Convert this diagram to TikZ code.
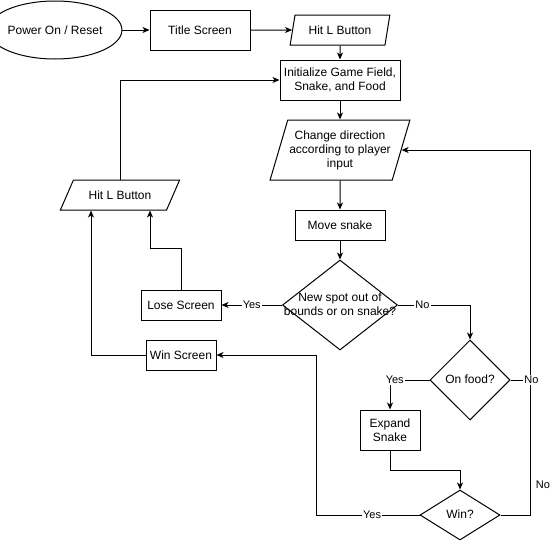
\documentclass[tikz,border=0pt]{standalone}
\usepackage{fontspec}
\setmainfont{Liberation Sans}
\usetikzlibrary{shapes.geometric,arrows.meta}
\newcommand{\flatbox}[1]{\makebox[0pt]{\raisebox{-4pt}[0pt][0pt]{\begin{tabular}{@{}c@{}}#1\end{tabular}}}}
\begin{document}
\begin{tikzpicture}[x=1pt,y=-1pt,line width=1pt,
    >={Stealth[length=7pt,width=6pt,inset=2pt]},
    font=\fontsize{12}{14}\selectfont,
    process/.style={draw,rectangle,align=center,inner sep=2pt},
    io/.style={draw,trapezium,trapezium stretches=true,align=center,inner sep=1pt},
    decision/.style={draw,diamond,inner sep=0pt},
    lbl/.style={fill=white,inner sep=1pt,font=\fontsize{11}{13}\selectfont}]
        \useasboundingbox (0,0) rectangle (553,541);
        \node[draw,ellipse,minimum width=108,minimum height=58,inner sep=0pt] (power) at (55,30) {Power On / Reset};
        \node[process,minimum width=100,minimum height=40] (title) at (200,30) {Title Screen};
        \node[io,trapezium left angle=72,trapezium right angle=108,minimum width=100,minimum height=30] (hitA) at (340,30) {Hit L Button};
        \node[process,minimum width=120,minimum height=40] (init) at (340,80) {Initialize Game Field,\\Snake, and Food};
        \node[io,trapezium left angle=67,trapezium right angle=113,minimum width=140,minimum height=60] (change) at (340,150) {Change direction\\according to player\\input};
        \node[process,minimum width=90,minimum height=30] (move) at (340,225) {Move snake};
        \node[decision,minimum width=115,minimum height=90] (spot) at (340,305) {\flatbox{New spot out of\\bounds or on snake?}};
        \node[process,minimum width=80,minimum height=30] (lose) at (181,305) {Lose Screen};
        \node[io,trapezium left angle=50,trapezium right angle=130,minimum width=120,minimum height=30] (hitB) at (120,195) {Hit L Button};
        \node[process,minimum width=70,minimum height=30] (winscr) at (181,355) {Win Screen};
        \node[decision,minimum width=80,minimum height=80] (food) at (470,380) {\flatbox{On food?}};
        \node[process,minimum width=60,minimum height=40] (expand) at (390,430) {Expand\\Snake};
        \node[decision,minimum width=80,minimum height=50] (winq) at (460,515) {\flatbox{Win?}};
        \draw[->] (power) -- (title);
        \draw[->] (title) -- (hitA);
        \draw[->] (hitA) -- (init);
        \draw[->] (hitB) |- (init);
        \draw[->] (init) -- (change);
        \draw[->] (change) -- (move);
        \draw[->] (move) -- (spot);
        \draw[->] (spot) -- node[lbl]{Yes} (lose);
        \draw[->] (spot) -| node[lbl,pos=0.17]{No} (food);
        \draw[->] (food) -| node[lbl,pos=0.44]{Yes} (expand);
        \draw[->] (expand.south) -- ++(0,20) -| (winq.north);
        \draw[->] (winq.west) -- node[lbl,pos=0.46]{Yes} ++(-103,0) |- (winscr);
        \draw[->] (winscr) -| ([xshift=-29pt]hitB.south);
        \draw[->] (lose.north) -- ++(0,-41) -| ([xshift=30pt]hitB.south);
        \draw[->] (winq.east) -- ++(30,0) |- (change.east);
        \draw (food.east) -- ++(19,0) node[lbl,xshift=2pt]{No};
        \node[font=\fontsize{11}{13}\selectfont] (nolbl) at (543,485) {No};
    \end{tikzpicture}
\end{document}
